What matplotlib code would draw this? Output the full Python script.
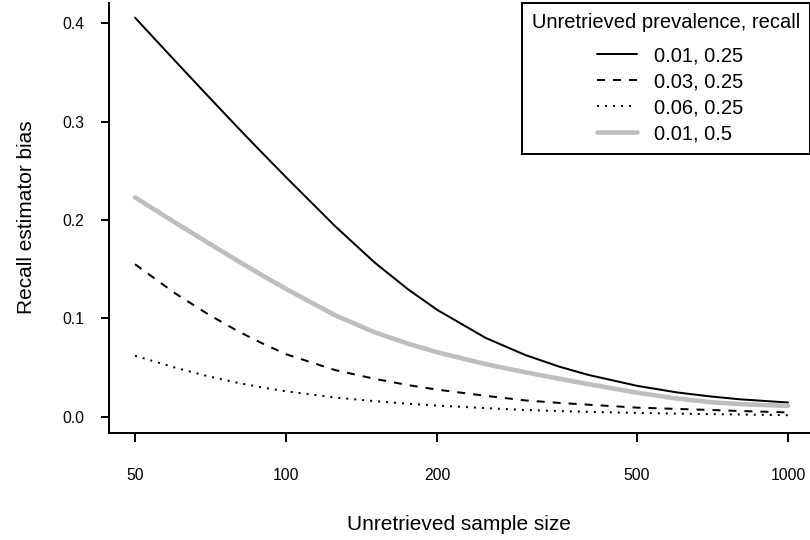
import matplotlib
matplotlib.use("Agg")
import matplotlib.pyplot as plt
from matplotlib.lines import Line2D
from matplotlib.legend_handler import HandlerLine2D

plt.rcParams['font.family'] = ['Liberation Sans', 'DejaVu Sans']

# Data
sample_size = [50, 60, 70, 80, 90, 100, 125, 150, 175, 200, 250, 300, 350, 400, 500, 600, 700, 800, 1000]
bias_001_025 = [0.4058, 0.3622, 0.3257, 0.2944, 0.2673, 0.2435, 0.1941, 0.1569, 0.1295, 0.1086, 0.0800,
                0.0626, 0.0509, 0.0425, 0.0314, 0.0247, 0.0206, 0.0177, 0.0144]
bias_003_025 = [0.155, 0.1257, 0.104, 0.0872, 0.0741, 0.0635, 0.0475, 0.0385, 0.0321, 0.0275, 0.0212,
                0.0165, 0.0140, 0.0122, 0.0092, 0.0079, 0.0068, 0.0058, 0.0043]
bias_006_025 = [0.062, 0.050, 0.041, 0.0345, 0.0295, 0.0258, 0.0195, 0.0158, 0.0132, 0.0113, 0.0087,
                0.0068, 0.0057, 0.0049, 0.0038, 0.0031, 0.0026, 0.0022, 0.0015]
bias_001_050 = [0.223, 0.1977, 0.1766, 0.1586, 0.1432, 0.1299, 0.1033, 0.0859, 0.0742, 0.0655, 0.0534,
                0.0451, 0.0386, 0.0331, 0.0244, 0.0185, 0.0148, 0.0128, 0.0109]

series_labels = ["0.01, 0.25", "0.03, 0.25", "0.06, 0.25", "0.01, 0.5"]
legend_title = "Unretrieved prevalence, recall"
x_ticks = [50, 100, 200, 500, 1000]
y_ticks = [0.0, 0.1, 0.2, 0.3, 0.4]

W, H = 810, 540
fig = plt.figure(figsize=(W / 100, H / 100), dpi=100)
ax = fig.add_axes([109.1 / W, 1 - 432.7 / H, 705.0 / W, (432.7 - 2.7) / H])

lw = 1.44
ax.plot(sample_size, bias_001_025, color='black', lw=lw, solid_capstyle='round',
        solid_joinstyle='round', label=series_labels[0])
ax.plot(sample_size, bias_003_025, color='black', lw=lw, ls=(0, (4, 4)),
        label=series_labels[1])
ax.plot(sample_size, bias_006_025, color='black', lw=lw, ls=(0, (1, 3)),
        label=series_labels[2])
ax.plot(sample_size, bias_001_050, color='#bebebe', lw=3.3, solid_capstyle='round',
        solid_joinstyle='round', label=series_labels[3])

ax.set_xscale('log')
ax.set_xlim(44.4, 1127)
ax.set_ylim(-0.0163, 0.421)
ax.set_xticks(x_ticks)
ax.set_xticklabels([str(v) for v in x_ticks])
ax.xaxis.set_minor_locator(matplotlib.ticker.NullLocator())
ax.set_yticks(y_ticks)
ax.set_yticklabels([f"{v:.1f}" for v in y_ticks])

for s in ['top', 'right']:
    ax.spines[s].set_visible(False)
for s in ['left', 'bottom']:
    ax.spines[s].set_linewidth(lw)
    ax.spines[s].set_color('black')

ax.tick_params(axis='x', direction='out', length=6.5, width=lw, pad=19, labelsize=11.3)
ax.tick_params(axis='y', direction='out', length=5.8, width=lw, pad=12, labelsize=11.3)

fig.text(459 / W, 1 - 530 / H, "Unretrieved sample size", fontsize=15,
         ha='center', va='baseline')
fig.text(31.7 / W, 1 - 217 / H, "Recall estimator bias", fontsize=15,
         rotation=90, rotation_mode='anchor', ha='center', va='baseline')

leg_fs = 14.5
leg = ax.legend(title=legend_title, loc='upper left',
                bbox_to_anchor=(522 / W, 1 - 2.7 / H), bbox_transform=fig.transFigure,
                borderaxespad=0, borderpad=0.5, fontsize=leg_fs, title_fontsize=leg_fs,
                fancybox=False, framealpha=1, edgecolor='black',
                handlelength=5.21, handletextpad=0.82, labelspacing=0.35,
                alignment='left',
                handler_map={Line2D: HandlerLine2D(xpad=3.23)})
leg.get_frame().set_linewidth(lw)
leg._legend_box.sep = 10.5

fig.savefig("out.png", dpi=100)
